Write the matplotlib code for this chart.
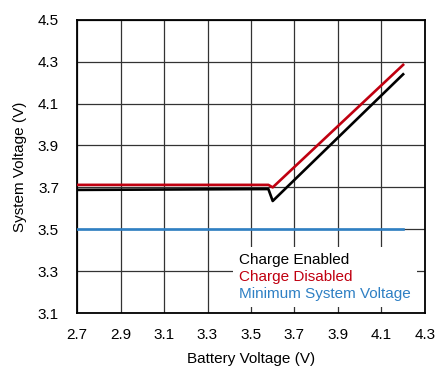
import matplotlib
matplotlib.use("Agg")
import matplotlib.pyplot as plt
import numpy as np

plt.rcParams['font.family'] = ['Liberation Sans', 'DejaVu Sans']

# battery voltage (V) vs system voltage (V)
vbat_en = [2.7, 3.58, 3.60, 4.2]
vsys_en = [3.688, 3.692, 3.635, 4.24]
vbat_dis = [2.7, 3.58, 3.60, 4.2]
vsys_dis = [3.712, 3.712, 3.70, 4.285]
vbat_min = [2.7, 4.2]
vsys_min = [3.5, 3.5]

xticks = [2.7, 2.9, 3.1, 3.3, 3.5, 3.7, 3.9, 4.1, 4.3]
yticks = [3.1, 3.3, 3.5, 3.7, 3.9, 4.1, 4.3, 4.5]

fig = plt.figure(figsize=(4.38, 3.67), dpi=100)
ax = fig.add_axes([0.176, 0.147, 0.794, 0.799])

ax.plot(vbat_en, vsys_en, color='black', lw=1.9, label='Charge Enabled', zorder=3)
ax.plot(vbat_dis, vsys_dis, color='#c00010', lw=1.9, label='Charge Disabled', zorder=3)
ax.plot(vbat_min, vsys_min, color='#2f80c4', lw=1.9, label='Minimum System Voltage', zorder=3)

ax.set_xlim(2.7, 4.3)
ax.set_ylim(3.1, 4.5)
ax.set_xticks(xticks)
ax.set_yticks(yticks)
ax.set_xticklabels([f'{v:.1f}' for v in xticks])
ax.set_yticklabels([f'{v:.1f}' for v in yticks])
ax.tick_params(length=0, labelsize=11)
ax.tick_params(axis='x', pad=11)
ax.tick_params(axis='y', pad=13)
ax.grid(True, color='#333333', lw=0.9)
ax.set_axisbelow(True)
for s in ax.spines.values():
    s.set_linewidth(1.3)

ax.set_xlabel('Battery Voltage (V)', fontsize=11, labelpad=7)
ax.set_ylabel('System Voltage (V)', fontsize=11, labelpad=8)

leg = ax.legend(loc='lower right', bbox_to_anchor=(1.0, -0.005), handlelength=0,
                handletextpad=0, labelcolor='linecolor', fontsize=11,
                frameon=True, fancybox=False, framealpha=1, edgecolor='none',
                labelspacing=0.2, borderpad=0.4)
for h in leg.legend_handles:
    h.set_visible(False)

fig.savefig('out.png', dpi=100)
